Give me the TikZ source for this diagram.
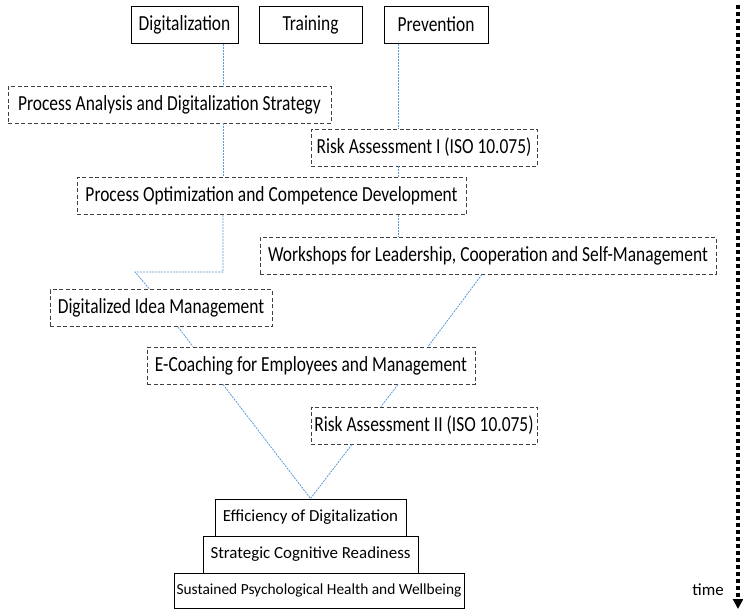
\documentclass[tikz,border=0pt]{standalone}
\usepackage{fontspec}
\setmainfont{Carlito}
\newfontfamily\narrowfont{Carlito}[FakeStretch=0.81]
\usepackage{tikz}
\usetikzlibrary{positioning,calc,arrows.meta}
\definecolor{linkblue}{RGB}{91,155,213}

\begin{document}
\begin{tikzpicture}[
    x=1pt, y=-1pt,
    every node/.style={font=\narrowfont\fontsize{21.5}{24}\selectfont, inner sep=0pt},
    solidbox/.style={draw, line width=1pt, minimum height=37pt},
    planbox/.style={draw=black!75, line width=0.9pt, dash pattern=on 4pt off 2.5pt, minimum height=37pt},
    goalbox/.style={solidbox, font=\fontsize{16.9}{19}\selectfont},
    link/.style={draw=linkblue, line width=0.8pt, dash pattern=on 2pt off 1pt}
]
    \useasboundingbox (0,0) rectangle (743,611);

    \node[solidbox, minimum width=107pt] (dig) at (184.5,24.5) {Digitalization};
    \node[solidbox, minimum width=103pt] (train) at (310.5,24.5) {Training};
    \node[solidbox, minimum width=104pt] (prev) at (436,24.5) {Prevention};

    \node[planbox, minimum width=323pt] (strategy) at (169.5,104.5) {Process Analysis and Digitalization Strategy};
    \node[planbox, minimum width=226pt] (risk1) at (424,147.5) {Risk Assessment I (ISO 10.075)};
    \node[planbox, minimum width=389pt] (optim) at (271.5,196) {Process Optimization and Competence Development};
    \node[planbox, minimum width=456pt] (workshops) at (488,255.5) {Workshops for Leadership, Cooperation and Self-Management};
    \node[planbox, minimum width=222pt] (ideas) at (161,308) {Digitalized Idea Management};
    \node[planbox, minimum width=328pt] (coaching) at (311,365.5) {E-Coaching for Employees and Management};
    \node[planbox, minimum width=226pt] (risk2) at (424,425.5) {Risk Assessment II (ISO 10.075)};

    \node[goalbox, minimum width=191pt] (eff) at (310.5,517.5) {Efficiency of Digitalization};
    \node[goalbox, minimum width=215pt] (ready) at (310.5,554.5) {Strategic Cognitive Readiness};
    \node[goalbox, minimum width=290pt, minimum height=35pt, font=\fontsize{15.4}{18}\selectfont] (health) at (319,590.5) {Sustained Psychological Health and Wellbeing};

    \coordinate (digline) at (223,0);
    \coordinate (prevline) at (398,0);
    \coordinate (kink) at (135,272);

    \draw[link] (dig.south -| digline) -- (strategy.north -| digline);
    \draw[link] (strategy.south -| digline) -- (optim.north -| digline);
    \draw[link] (optim.south -| digline) |- (kink) -- ($(ideas.north west)+(100,0)$);
    \draw[link] (prev.south -| prevline) -- (risk1.north -| prevline);
    \draw[link] (risk1.south -| prevline) -- (optim.north -| prevline);
    \draw[link] (optim.south -| prevline) -- (workshops.north -| prevline);
    \draw[link] ($(ideas.south)+(17,0)$) -- ($(coaching.north)+(-118,0)$);
    \draw[link] ($(workshops.south)+(-6,0)$) -- ($(coaching.north)+(117,0)$);
    \draw[link] ($(coaching.south)+(87,0)$) -- ($(risk2.north)+(-43,0)$);
    \draw[link] ($(coaching.south)+(-88,0)$) -- (eff.north);
    \draw[link] ($(risk2.south)+(-72,0)$) -- (eff.north);

    \coordinate (tstart) at (738,5);
    \coordinate (tend) at (738,609);
    \draw[line width=3.2pt, dash pattern=on 3.5pt off 3.5pt, -{Triangle[width=10pt,length=10pt]}] (tstart) -- (tend);
    \node[anchor=base east, font=\fontsize{16.9}{19}\selectfont] (timelabel) at (724,595) {time};
\end{tikzpicture}
\end{document}
